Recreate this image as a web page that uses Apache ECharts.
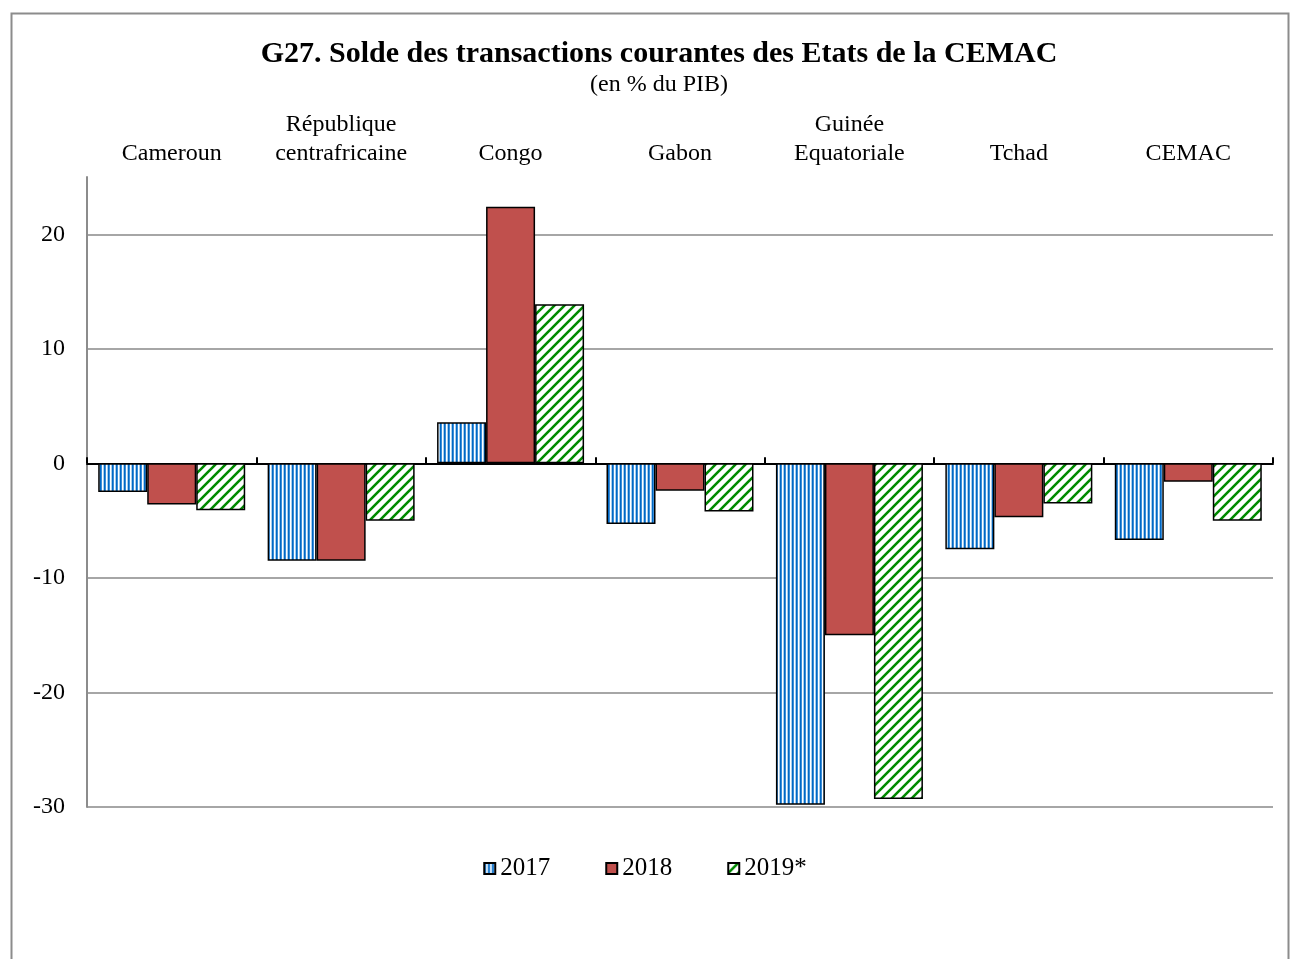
<!DOCTYPE html>
<html>
<head>
    <meta charset="utf-8">
    <title>ECharts</title>
    <script type="text/javascript" src="https://cdn.jsdelivr.net/npm/echarts@6/dist/echarts.min.js"></script>
</head>
<body style="margin:0">
<div id="main" style="width: 1290px;height:959px;"></div>
<script type="text/javascript">
    // données
    var pays = ['Cameroun', 'République\ncentrafricaine', 'Congo', 'Gabon', 'Guinée\nEquatoriale', 'Tchad', 'CEMAC'];
    var v2017 = [-2.5, -8.5, 3.6, -5.3, -29.8, -7.5, -6.7];
    var v2018 = [-3.6, -8.5, 22.4, -2.4, -15.0, -4.7, -1.6];
    var v2019 = [-4.1, -5.0, 13.9, -4.2, -29.3, -3.5, -5.0];
    var annees = ['2017', '2018', '2019*'];

    var serif = '"Liberation Serif", "DejaVu Serif", serif';

    // motif rayures verticales bleues
    function rayuresBleues() {
        var c = document.createElement('canvas');
        c.width = 4; c.height = 4;
        var ctx = c.getContext('2d');
        ctx.fillStyle = '#ffffff'; ctx.fillRect(0, 0, 4, 4);
        ctx.fillStyle = '#0068c4'; ctx.fillRect(0, 0, 1, 4);
        ctx.fillStyle = '#3d8ed8'; ctx.fillRect(1, 0, 1, 4);
        ctx.fillStyle = '#a6cdee'; ctx.fillRect(3, 0, 1, 4);
        return c;
    }
    // motif diagonales vertes
    function diagVertes() {
        var c = document.createElement('canvas');
        c.width = 10; c.height = 10;
        var ctx = c.getContext('2d');
        ctx.fillStyle = '#ffffff'; ctx.fillRect(0, 0, 10, 10);
        ctx.strokeStyle = '#008a00'; ctx.lineWidth = 2.6;
        ctx.beginPath();
        ctx.moveTo(-2, 12); ctx.lineTo(12, -2);
        ctx.moveTo(-7, 7); ctx.lineTo(7, -7);
        ctx.moveTo(3, 17); ctx.lineTo(17, 3);
        ctx.stroke();
        return c;
    }

    var myChart = echarts.init(document.getElementById('main'));
    var option = {
        backgroundColor: '#ffffff',
        animation: false,
        title: {
            text: 'G27. Solde des transactions courantes des Etats de la CEMAC',
            subtext: '(en % du PIB)',
            left: 654,
            textAlign: 'center',
            top: 34,
            itemGap: 4,
            textStyle: {fontFamily: serif, fontSize: 30, fontWeight: 'bold', color: '#000'},
            subtextStyle: {fontFamily: serif, fontSize: 24, color: '#000'}
        },
        graphic: [{
            type: 'rect',
            shape: {x: 11.5, y: 13.5, width: 1277, height: 980},
            style: {fill: 'none', stroke: '#8c8c8c', lineWidth: 2}
        }],
        legend: {
            top: 851,
            left: 'center',
            itemWidth: 11,
            itemHeight: 11,
            itemGap: 55,
            icon: 'rect',
            textStyle: {fontFamily: serif, fontSize: 25, color: '#000'},
            data: annees
        },
        grid: {left: 87, right: 17, top: 177, bottom: 152},
        xAxis: [{
            type: 'category',
            data: pays,
            position: 'bottom',
            axisLine: {onZero: true, lineStyle: {color: '#000', width: 2}},
            axisTick: {show: true, inside: true, length: 6, lineStyle: {color: '#000', width: 2}},
            axisLabel: {show: false},
            splitLine: {show: false}
        }, {
            type: 'category',
            data: pays,
            position: 'top',
            axisLine: {show: false},
            axisTick: {show: false},
            axisLabel: {interval: 0, fontFamily: serif, fontSize: 24, color: '#000', margin: 9, lineHeight: 29}
        }],
        yAxis: {
            type: 'value',
            min: -30,
            max: 25,
            interval: 10,
            axisLine: {show: true, lineStyle: {color: '#8c8c8c', width: 2}},
            axisTick: {show: false},
            axisLabel: {fontFamily: serif, fontSize: 24, color: '#000', margin: 22, showMaxLabel: false},
            splitLine: {lineStyle: {color: ['#a6a6a6', '#a6a6a6', '#a6a6a6', '#a6a6a6', '#a6a6a6', '#a6a6a6', 'rgba(0,0,0,0)'], width: 2}}
        },
        series: [{
            name: '2017', type: 'bar', data: v2017, barWidth: 49, barGap: '0%',
            itemStyle: {color: {image: rayuresBleues(), repeat: 'repeat'}, borderColor: '#000', borderWidth: 1.5}
        }, {
            name: '2018', type: 'bar', data: v2018, barWidth: 49, barGap: '0%',
            itemStyle: {color: '#c0504d', borderColor: '#000', borderWidth: 1.5}
        }, {
            name: '2019*', type: 'bar', data: v2019, barWidth: 49, barGap: '0%',
            itemStyle: {color: {image: diagVertes(), repeat: 'repeat'}, borderColor: '#000', borderWidth: 1.5}
        }]
    };
    myChart.setOption(option);
</script>
</body>
</html>
